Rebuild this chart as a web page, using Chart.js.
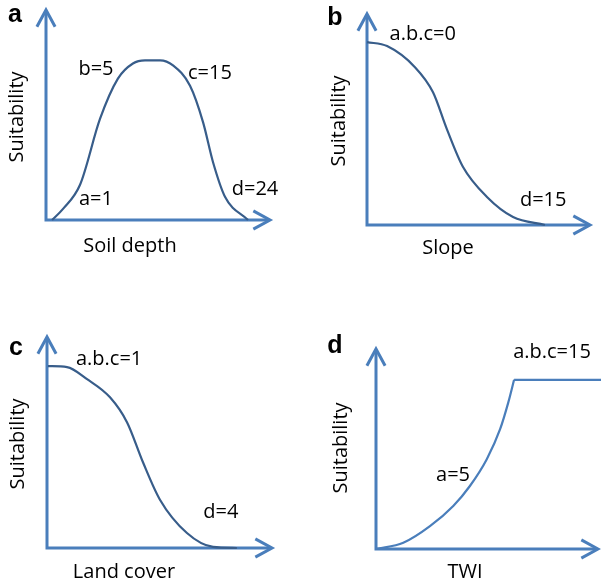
<!DOCTYPE html>
<html>
<head>
<meta charset="utf-8">
<script src="https://cdn.jsdelivr.net/npm/chart.js@4"></script>
<style>
  body { margin: 0; background: #fff; }
  #wrap { position: relative; width: 601px; height: 585px; }
  canvas { position: absolute; }
</style>
</head>
<body>
<div id="wrap">
  <canvas id="chartA" width="300" height="290" style="left:0;top:0"></canvas>
  <canvas id="chartB" width="301" height="290" style="left:300px;top:0"></canvas>
  <canvas id="chartC" width="300" height="295" style="left:0;top:290px"></canvas>
  <canvas id="chartD" width="301" height="295" style="left:300px;top:290px"></canvas>
</div>
<script>
// curves, x and y as percent of the axis length (origin to arrow tip)
const soilX = [2.7, 7.6, 15.2, 24.1, 32.1, 38.8, 44.2, 50.9, 56.7, 64.3, 70.1, 74.6, 79.9, 90.2];
const soilY = [0, 5.3, 16.8, 48.1, 67.3, 74.5, 76, 76, 73.6, 63.9, 46.6, 27.4, 11.1, 0];

const slopeX = [0, 9, 21.5, 29.6, 35.9, 43, 53.8, 65.5, 79.8];
const slopeY = [86.7, 84.8, 74.8, 62.9, 45.2, 27.6, 13.3, 3.8, 0];

const landX = [0.4, 8.9, 17.8, 28, 35.6, 42.7, 50.2, 62.2, 73.8, 84.4];
const landY = [86.2, 85.7, 80, 71.4, 59.5, 40.5, 22.9, 7.1, 0.5, 0];

const twiX = [0, 12.3, 24.3, 34.8, 42.3, 49.9, 55.9, 59.6, 62.2];
const twiY = [0, 3.1, 11.4, 21.5, 31.5, 44.9, 59.9, 73.3, 84.6];
const twiFlatX = [62.2, 101.4];
const twiFlatY = [84.6, 84.6];

// annotation texts with their anchor in the same units
const soilNotes = [['b=5', 22.3, 72], ['c=15', 73.2, 70], ['a=1', 22.3, 10], ['d=24', 93.3, 14.4]];
const slopeNotes = [['a.b.c=0', 25, 90.5], ['d=15', 79, 11.9]];
const landNotes = [['a.b.c=1', 27.6, 89.5], ['d=4', 77.3, 16.7]];
const twiNotes = [['a=5', 34.7, 36.7], ['a.b.c=15', 79.3, 98.5]];

const axisColor = 'rgb(74,126,187)';
const curveDark = 'rgb(56,93,138)';
const textFont = '20px "Open Sans", sans-serif';

function arrowHead(ctx, x, y, dir) {
  const len = 19, spread = 0.5;
  const ang = dir === 'up' ? -Math.PI / 2 : 0;
  ctx.beginPath();
  ctx.moveTo(x - len * Math.cos(ang - spread), y - len * Math.sin(ang - spread));
  ctx.lineTo(x, y);
  ctx.lineTo(x - len * Math.cos(ang + spread), y - len * Math.sin(ang + spread));
  ctx.stroke();
}

const decor = {
  id: 'decor',
  beforeDatasetsDraw(chart, args, opts) {
    const ca = chart.chartArea;
    const ctx = chart.ctx;
    ctx.save();
    ctx.strokeStyle = axisColor;
    ctx.lineWidth = 3;
    ctx.beginPath();
    ctx.moveTo(ca.left, ca.top + 1);
    ctx.lineTo(ca.left, ca.bottom);
    ctx.lineTo(ca.right - 1, ca.bottom);
    ctx.stroke();
    arrowHead(ctx, ca.left, ca.top, 'up');
    arrowHead(ctx, ca.right, ca.bottom, 'right');
    ctx.restore();
  },
  afterDatasetsDraw(chart, args, opts) {
    const ctx = chart.ctx;
    const xs = chart.scales.x, ys = chart.scales.y;
    ctx.save();
    ctx.fillStyle = '#000';
    ctx.font = textFont;
    ctx.textAlign = 'center';
    ctx.textBaseline = 'middle';
    opts.notes.forEach(n => {
      ctx.fillText(n[0], xs.getPixelForValue(n[1]), ys.getPixelForValue(n[2]));
    });
    // axis titles
    ctx.fillText(opts.xTitle, opts.xTitlePos[0], opts.xTitlePos[1]);
    ctx.save();
    ctx.translate(opts.yTitlePos[0], opts.yTitlePos[1]);
    ctx.rotate(-Math.PI / 2);
    ctx.fillText('Suitability', 0, 0);
    ctx.restore();
    // panel letter
    ctx.font = 'bold 25px "Liberation Sans", Arial, sans-serif';
    ctx.fillText(opts.letter, opts.letterPos[0], opts.letterPos[1]);
    ctx.restore();
  }
};

function lineSet(xs, ys, color, smooth) {
  return {
    data: xs.map((x, i) => ({ x: x, y: ys[i] })),
    borderColor: color,
    borderWidth: 2.2,
    pointRadius: 0,
    fill: false,
    cubicInterpolationMode: smooth ? 'monotone' : 'default',
    tension: 0,
    clip: false
  };
}

function makePanel(id, datasets, pad, opts) {
  return new Chart(document.getElementById(id), {
    type: 'line',
    data: { datasets: datasets },
    options: {
      responsive: false,
      animation: false,
      layout: { padding: pad },
      scales: {
        x: { type: 'linear', min: 0, max: 100, display: false },
        y: { type: 'linear', min: 0, max: 100, display: false }
      },
      plugins: {
        legend: { display: false },
        tooltip: { enabled: false },
        decor: opts
      }
    },
    plugins: [decor]
  });
}

makePanel('chartA', [lineSet(soilX, soilY, curveDark, true)],
  { left: 46, top: 10, right: 30, bottom: 70 },
  { notes: soilNotes, xTitle: 'Soil depth', xTitlePos: [130, 246], yTitlePos: [17, 117], letter: 'a', letterPos: [15, 15] });

makePanel('chartB', [lineSet(slopeX, slopeY, curveDark, true)],
  { left: 67, top: 14, right: 11, bottom: 65 },
  { notes: slopeNotes, xTitle: 'Slope', xTitlePos: [148, 248], yTitlePos: [39, 121], letter: 'b', letterPos: [35, 18] });

makePanel('chartC', [lineSet(landX, landY, curveDark, true)],
  { left: 47, top: 47, right: 28, bottom: 37 },
  { notes: landNotes, xTitle: 'Land cover', xTitlePos: [124, 282], yTitlePos: [18, 154], letter: 'c', letterPos: [16, 58] });

makePanel('chartD', [lineSet(twiX, twiY, axisColor, true), lineSet(twiFlatX, twiFlatY, axisColor, false)],
  { left: 76, top: 59, right: 3, bottom: 36 },
  { notes: twiNotes, xTitle: 'TWI', xTitlePos: [165, 282], yTitlePos: [41, 158], letter: 'd', letterPos: [35, 56] });
</script>
</body>
</html>
